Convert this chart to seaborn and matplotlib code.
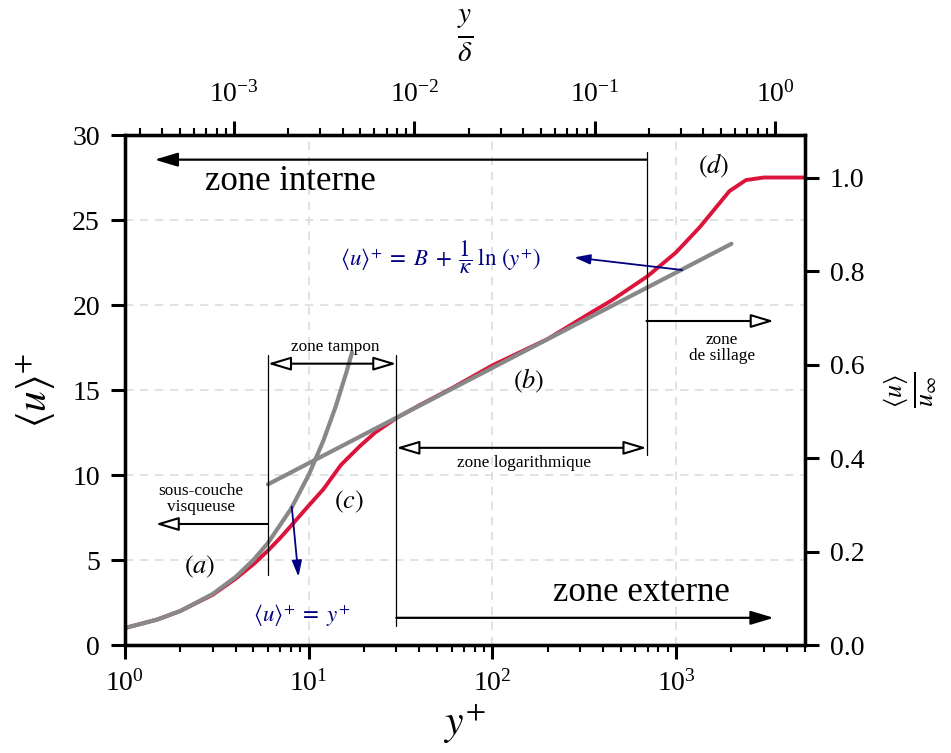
import matplotlib
matplotlib.use("Agg")
import matplotlib.pyplot as plt
import seaborn as sns
from matplotlib.ticker import LogLocator, NullFormatter, MultipleLocator, FormatStrFormatter

# --- values ---
# mean velocity profile (red)
profile_yplus = [1, 1.5, 2, 3, 4, 5, 6, 7, 8, 10, 12, 15, 19, 23, 30, 40, 60,
                 100, 200, 350, 450, 700, 1000, 1350, 1950, 2400, 3000, 5000]
profile_uplus = [1.0, 1.5, 2.0, 2.95, 3.9, 4.75, 5.55, 6.3, 7.0, 8.2, 9.15, 10.6,
                 11.7, 12.5, 13.35, 14.1, 15.1, 16.45, 18.0, 19.6, 20.3, 21.7,
                 23.1, 24.6, 26.7, 27.35, 27.5, 27.5]

# viscous sublayer law <u>+ = y+ (grey)
visc_yplus = [1, 1.5, 2, 3, 4, 5, 6, 8, 10, 12, 14, 16, 17.2]
visc_uplus = [1, 1.5, 2, 3, 4, 5, 6, 8, 10, 12, 14, 16, 17.2]

# log law (grey, straight on a log axis)
log_yplus = [6, 2000]
log_uplus = [9.45, 23.6]

u_inf_plus = 27.5
zone_bounds = [6, 30, 690]   # y+ limits of the regions

sns.set_theme(style="ticks")
plt.rcParams["font.family"] = ["Liberation Serif", "DejaVu Serif"]
plt.rcParams["mathtext.fontset"] = "stix"
plt.rcParams["axes.linewidth"] = 2.3
for key in ["axes.edgecolor", "axes.labelcolor", "text.color", "xtick.color", "ytick.color"]:
    plt.rcParams[key] = "black"

red = "#dc143c"
grey = "#888888"

fig = plt.figure(figsize=(9.51, 7.53), dpi=100)
ax = fig.add_axes([0.1314, 0.1434, 0.7146, 0.6773])
ax.set_xscale("log")

sns.lineplot(x=profile_yplus, y=profile_uplus, ax=ax, color=red, lw=2.8, sort=False)
sns.lineplot(x=visc_yplus, y=visc_uplus, ax=ax, color=grey, lw=3.0, sort=False)
sns.lineplot(x=log_yplus, y=log_uplus, ax=ax, color=grey, lw=3.0, sort=False)

ax.set_xlim(1, 5000)
ax.set_ylim(0, 30)
ax.yaxis.set_major_locator(MultipleLocator(5))
ax.xaxis.set_major_locator(LogLocator(base=10, numticks=10))
ax.xaxis.set_minor_locator(LogLocator(base=10, subs=range(2, 10), numticks=20))
ax.xaxis.set_minor_formatter(NullFormatter())
ax.grid(True, which="major", ls=(0, (5, 4)), color="#dddddd", lw=1.2)
ax.tick_params(which="major", direction="out", length=10, width=2.2, labelsize=20, pad=8)
ax.tick_params(which="minor", direction="out", length=5, width=1.5)
ax.set_xlabel(r"$y^{+}$", fontsize=30, labelpad=4)
ax.set_ylabel(r"$\langle u\rangle^{+}$", fontsize=30, labelpad=10)

# right axis: <u>/u_inf
ax2 = ax.twinx()
ax2.set_ylim(0, 30 / u_inf_plus)
ax2.yaxis.set_major_locator(MultipleLocator(0.2))
ax2.yaxis.set_major_formatter(FormatStrFormatter("%.1f"))
ax2.tick_params(which="major", direction="out", length=10, width=2.2, labelsize=20, pad=8)
ax2.set_ylabel(r"$\frac{\langle u\rangle}{u_{\infty}}$", fontsize=27, labelpad=12)
ax2.grid(False)

# top axis: y/delta
ax3 = ax.twiny()
ax3.set_xscale("log")
ax3.set_xlim(2.48e-4, 1.456)
ax3.xaxis.set_major_locator(LogLocator(base=10, numticks=10))
ax3.xaxis.set_minor_locator(LogLocator(base=10, subs=range(2, 10), numticks=20))
ax3.xaxis.set_minor_formatter(NullFormatter())
ax3.tick_params(which="major", direction="out", length=10, width=2.2, labelsize=20, pad=10)
ax3.tick_params(which="minor", direction="out", length=5, width=1.5)
ax3.set_xlabel(r"$\frac{y}{\delta}$", fontsize=30, labelpad=26)
ax3.grid(False)

# --- region markers ---
thin = dict(color="black", lw=0.9)
ax.plot([zone_bounds[0]] * 2, [4.1, 17.06], **thin)
ax.plot([zone_bounds[1]] * 2, [1.1, 17.06], **thin)
ax.plot([zone_bounds[2]] * 2, [11.2, 29.0], **thin)

solid = dict(arrowstyle="-|>,head_length=1.0,head_width=0.3", color="black", lw=1.6,
             shrinkA=0, shrinkB=0, mutation_scale=14)
hollow = dict(arrowstyle="-|>,head_length=1.0,head_width=0.3", fc="white", ec="black",
              lw=1.5, shrinkA=0, shrinkB=0, mutation_scale=14)
hollow2 = dict(hollow, arrowstyle="<|-|>,head_length=1.0,head_width=0.3")
blue = dict(arrowstyle="-|>,head_length=0.8,head_width=0.25", color="navy", lw=1.3,
            shrinkA=0, shrinkB=0, mutation_scale=12)

ax.annotate("", xy=(1.45, 28.55), xytext=(zone_bounds[2], 28.55), arrowprops=solid)
ax.annotate("", xy=(3400, 1.6), xytext=(zone_bounds[1], 1.6), arrowprops=solid)
ax.annotate("", xy=(3400, 19.06), xytext=(zone_bounds[2], 19.06), arrowprops=hollow)
ax.annotate("", xy=(zone_bounds[2], 11.6), xytext=(zone_bounds[1], 11.6), arrowprops=hollow2)
ax.annotate("", xy=(zone_bounds[1], 16.55), xytext=(zone_bounds[0], 16.55), arrowprops=hollow2)
ax.annotate("", xy=(1.47, 7.12), xytext=(zone_bounds[0], 7.12), arrowprops=hollow)
ax.annotate("", xy=(279, 22.8), xytext=(1078, 22.06), arrowprops=blue)
ax.annotate("", xy=(8.8, 4.02), xytext=(8.09, 8.14), arrowprops=blue)

ax.text(7.96, 27.25, "zone interne", fontsize=25, ha="center", va="center")
ax.text(650, 3.1, "zone externe", fontsize=25, ha="center", va="center")
ax.text(13.9, 17.55, "zone tampon", fontsize=12.4, ha="center", va="center")
ax.text(148, 10.69, "zone logarithmique", fontsize=12.4, ha="center", va="center")
ax.text(1780, 17.5, "zone\nde sillage", fontsize=12.4, ha="center", va="center", linespacing=1.0)
ax.text(2.6, 8.6, "sous-couche\nvisqueuse", fontsize=12.4, ha="center", va="center", linespacing=1.0)

for xx, yy, lab in [(2.55, 4.57, "a"), (156.8, 15.55, "b"), (16.5, 8.43, "c"), (1610, 28.2, "d")]:
    ax.text(xx, yy, r"$(%s)$" % lab, fontsize=19, ha="center", va="center")

ax.text(52.3, 22.8,
        r"$\langle u\rangle^{+}\;=\;B\;+\;\dfrac{1}{\kappa}\;\ln\,\left(y^{+}\right)$",
        fontsize=16.5, color="navy", ha="center", va="center")
ax.text(9.1, 1.7, r"$\langle u\rangle^{+}\;=\;y^{+}$", fontsize=16.5, color="navy",
        ha="center", va="center")

fig.savefig("out.png", dpi=100)
